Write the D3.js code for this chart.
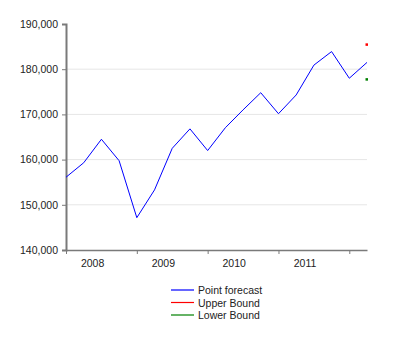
<!DOCTYPE html>
<html><head><meta charset="utf-8">
<script src="https://cdn.jsdelivr.net/npm/d3@7"></script>
<style>body{margin:0;background:#fff}svg{display:block}text{font-family:"Liberation Sans",Arial,sans-serif;font-size:10.5px;fill:#222}</style>
</head><body><svg id="c" width="400" height="345"></svg>
<script>
const quarters = ["2008Q1","2008Q2","2008Q3","2008Q4","2009Q1","2009Q2","2009Q3","2009Q4","2010Q1","2010Q2","2010Q3","2010Q4","2011Q1","2011Q2","2011Q3","2011Q4","2012Q1","2012Q2"];
const pointForecast = [156100,159300,164500,159750,147150,153300,162500,166800,162000,167050,171000,174800,170150,174300,180900,183900,178000,181500];
const upperBound = [185500];
const lowerBound = [177800];
const yearLabels = ["2008","2009","2010","2011"];
const yTicks = [140000,150000,160000,170000,180000,190000];
const seriesNames = ["Point forecast","Upper Bound","Lower Bound"];
const seriesColors = ["#0000ff","#ff0000","#008000"];

const svg = d3.select("#c");
const x = d3.scaleLinear().domain([0, quarters.length-1]).range([66, 367]);
const y = d3.scaleLinear().domain([140000,190000]).range([250, 24]);

// gridlines
svg.append("g").selectAll("line").data(yTicks.slice(1,-1)).join("line")
  .attr("x1",66).attr("x2",367).attr("y1",d=>y(d)).attr("y2",d=>y(d))
  .attr("stroke","#e6e6e6").attr("stroke-width",1);

// y axis
const yAxis = svg.append("g").attr("transform","translate(66,0)")
  .call(d3.axisLeft(y).tickValues(yTicks).tickFormat(d3.format(",")).tickSize(4).tickPadding(4));
yAxis.select(".domain").attr("stroke","#7a7a7a").attr("stroke-width",2);
yAxis.selectAll(".tick line").attr("stroke","#7a7a7a");
yAxis.selectAll("text").attr("fill","#222").style("font-size","10.5px").style("font-family","'Liberation Sans',Arial,sans-serif");

// x axis
const xt = d3.range(0, quarters.length, 4);
const xAxis = svg.append("g").attr("transform","translate(0,250)")
  .call(d3.axisBottom(x).tickValues(xt).tickFormat("").tickSize(4).tickSizeOuter(0));
xAxis.select(".domain").attr("stroke","#7a7a7a").attr("stroke-width",1.5);
xAxis.selectAll(".tick line").attr("stroke","#7a7a7a");
svg.append("g").selectAll("text").data(yearLabels).join("text")
  .attr("x",(d,i)=>x(i*4+1.5)).attr("y",267).attr("text-anchor","middle").text(d=>d);

// line
svg.append("path").datum(pointForecast)
  .attr("d", d3.line().x((d,i)=>x(i)).y(d=>y(d)))
  .attr("fill","none").attr("stroke",seriesColors[0]).attr("stroke-width",1);

// bounds
const last = quarters.length-1;
svg.append("rect").attr("x",x(last)-1.5).attr("y",y(upperBound[0])-1).attr("width",2.5).attr("height",2.5).attr("fill",seriesColors[1]);
svg.append("rect").attr("x",x(last)-1.5).attr("y",y(lowerBound[0])-1).attr("width",2.5).attr("height",2.5).attr("fill",seriesColors[2]);

// legend
const lg = svg.append("g").selectAll("g").data(seriesNames).join("g")
  .attr("transform",(d,i)=>`translate(171,${290+i*12.5})`);
lg.append("line").attr("x1",0).attr("x2",23).attr("y1",0).attr("y2",0)
  .attr("stroke",(d,i)=>seriesColors[i]).attr("stroke-width",1.2);
lg.append("text").attr("x",27).attr("y",4).text(d=>d);
</script></body></html>
